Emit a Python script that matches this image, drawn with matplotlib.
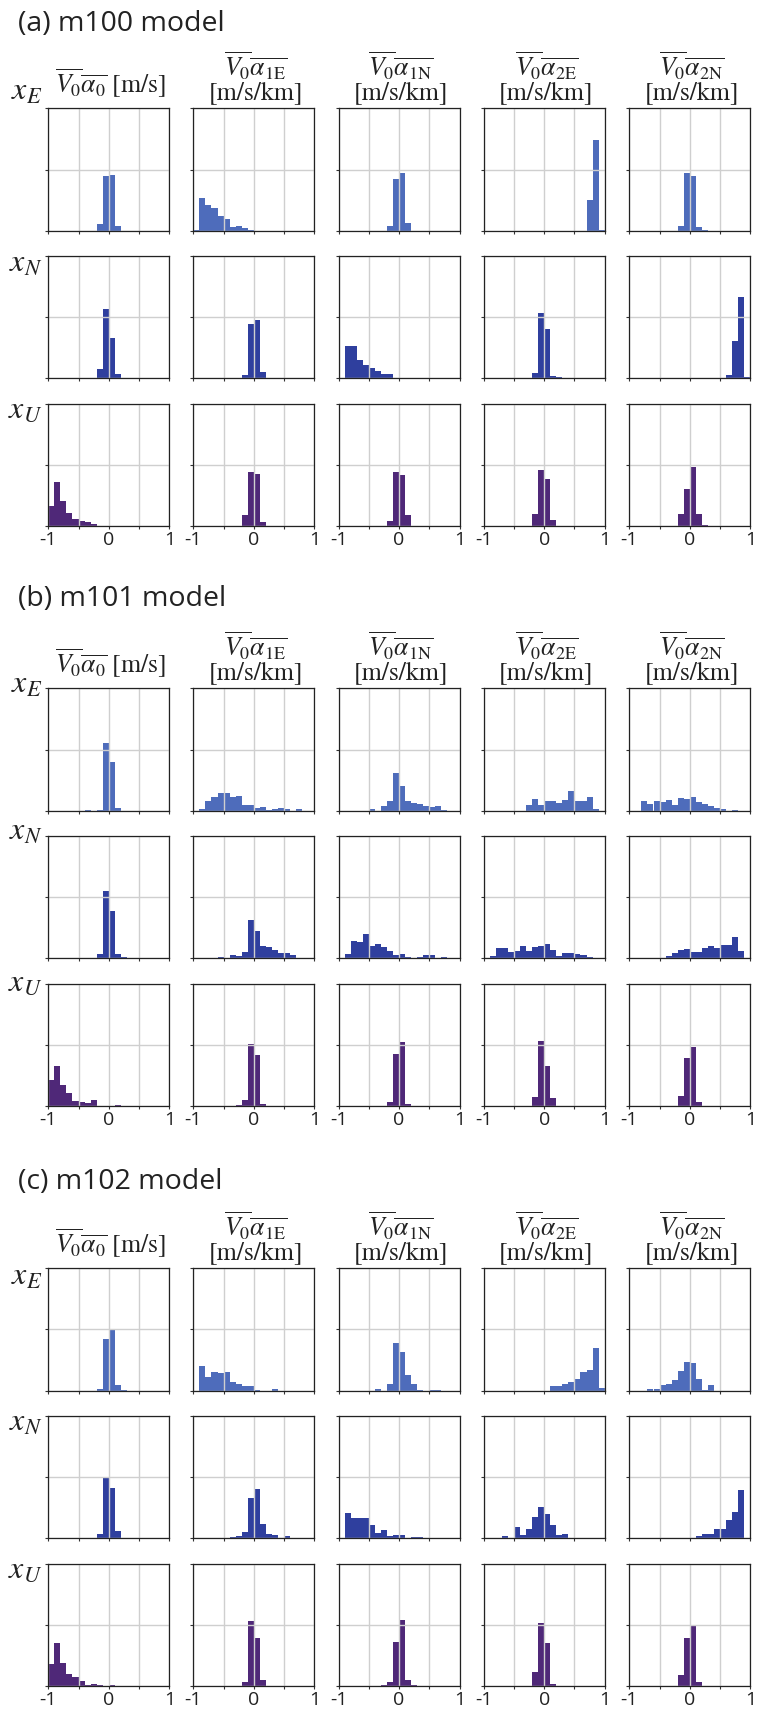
import matplotlib.pyplot as plt

plt.rcParams['mathtext.fontset'] = 'stix'

W, H = 762, 1713
BIN = 0.1

# relative frequency histograms, one entry per column:
# (left edge of the first listed bin, frequencies of consecutive 0.1-wide bins)
m100_xE = [
    (-0.2, [0.054, 0.45, 0.455, 0.04]),
    (-1.0, [0.005, 0.267, 0.21, 0.185, 0.12, 0.095, 0.033, 0.038, 0.022, 0.005]),
    (-0.2, [0.038, 0.42, 0.47, 0.063]),
    (0.7, [0.25, 0.74, 0.006]),
    (-0.2, [0.038, 0.47, 0.447, 0.03, 0.008]),
]
m100_xN = [
    (-0.2, [0.076, 0.565, 0.329, 0.035]),
    (-0.2, [0.027, 0.443, 0.476, 0.052]),
    (-0.9, [0.265, 0.265, 0.15, 0.109, 0.084, 0.06, 0.035, 0.035]),
    (-0.2, [0.046, 0.533, 0.402, 0.019, 0.011]),
    (0.6, [0.027, 0.304, 0.663, 0.011]),
]
m100_xU = [
    (-1.0, [0.163, 0.359, 0.204, 0.106, 0.057, 0.041, 0.033, 0.016]),
    (-0.2, [0.09, 0.44, 0.424, 0.033]),
    (-0.2, [0.041, 0.44, 0.416, 0.09]),
    (-0.2, [0.098, 0.457, 0.383, 0.049]),
    (-0.2, [0.098, 0.302, 0.481, 0.098, 0.008]),
]

m101_xE = [
    (-0.4, [0.008, 0.0, 0.008, 0.554, 0.4, 0.024]),
    (-0.9, [0.016, 0.082, 0.114, 0.147, 0.147, 0.114, 0.122, 0.049, 0.049,
            0.024, 0.033, 0.005, 0.016, 0.024, 0.016, 0.0, 0.016]),
    (-0.5, [0.016, 0.0, 0.041, 0.082, 0.31, 0.204, 0.082, 0.065, 0.057,
            0.041, 0.033, 0.041, 0.008]),
    (-0.3, [0.049, 0.098, 0.049, 0.082, 0.082, 0.065, 0.09, 0.163, 0.082,
            0.082, 0.114, 0.016]),
    (-0.8, [0.082, 0.057, 0.082, 0.073, 0.09, 0.049, 0.106, 0.098, 0.114,
            0.073, 0.057, 0.041, 0.024, 0.016, 0.0, 0.008]),
]
m101_xN = [
    (-0.2, [0.035, 0.546, 0.384, 0.035, 0.008]),
    (-0.6, [0.008, 0.0, 0.027, 0.016, 0.051, 0.311, 0.222, 0.1, 0.092, 0.068,
            0.043, 0.043, 0.027]),
    (-0.9, [0.035, 0.141, 0.132, 0.197, 0.1, 0.116, 0.092, 0.059, 0.027,
            0.035, 0.008, 0.0, 0.008, 0.027, 0.027, 0.0, 0.008]),
    (-0.9, [0.016, 0.084, 0.084, 0.051, 0.059, 0.1, 0.059, 0.092, 0.1, 0.116,
            0.068, 0.016, 0.043, 0.043, 0.035, 0.027, 0.008]),
    (-0.4, [0.016, 0.043, 0.068, 0.076, 0.051, 0.051, 0.084, 0.1, 0.084,
            0.108, 0.108, 0.173, 0.059]),
]
m101_xU = [
    (-1.0, [0.215, 0.325, 0.175, 0.11, 0.046, 0.038, 0.03, 0.054, 0.0, 0.0,
            0.0, 0.008]),
    (-0.3, [0.014, 0.054, 0.511, 0.421, 0.022]),
    (-0.2, [0.038, 0.429, 0.527, 0.022]),
    (-0.2, [0.079, 0.535, 0.332, 0.071]),
    (-0.2, [0.087, 0.397, 0.486, 0.038]),
]

m102_xE = [
    (-0.2, [0.016, 0.424, 0.505, 0.041, 0.008]),
    (-0.9, [0.204, 0.114, 0.155, 0.139, 0.155, 0.073, 0.049, 0.033, 0.033,
            0.008, 0.0, 0.0, 0.016]),
    (-0.4, [0.016, 0.0, 0.057, 0.391, 0.318, 0.13, 0.057, 0.008, 0.0, 0.008,
            0.008]),
    (0.1, [0.033, 0.033, 0.049, 0.073, 0.09, 0.155, 0.171, 0.351, 0.024]),
    (-0.7, [0.016, 0.016, 0.041, 0.049, 0.082, 0.163, 0.236, 0.228, 0.09,
            0.008, 0.041]),
]
m102_xN = [
    (-0.2, [0.032, 0.497, 0.408, 0.059]),
    (-0.4, [0.008, 0.016, 0.049, 0.327, 0.4, 0.116, 0.032, 0.024, 0.0, 0.019]),
    (-0.9, [0.205, 0.165, 0.165, 0.16, 0.108, 0.043, 0.068, 0.016, 0.027,
            0.027, 0.0, 0.011, 0.011]),
    (-0.7, [0.019, 0.0, 0.092, 0.027, 0.076, 0.173, 0.254, 0.197, 0.108,
            0.027, 0.035]),
    (0.1, [0.019, 0.035, 0.035, 0.076, 0.076, 0.149, 0.214, 0.392]),
]
m102_xU = [
    (-1.0, [0.18, 0.35, 0.19, 0.1, 0.075, 0.04, 0.01, 0.014, 0.008, 0.0, 0.008]),
    (-0.2, [0.033, 0.527, 0.389, 0.049]),
    (-0.3, [0.008, 0.033, 0.356, 0.535, 0.049, 0.008]),
    (-0.2, [0.111, 0.511, 0.348, 0.016]),
    (-0.2, [0.087, 0.389, 0.486, 0.033]),
]

panels = [
    ('(a) m100 model', [m100_xE, m100_xN, m100_xU]),
    ('(b) m101 model', [m101_xE, m101_xN, m101_xU]),
    ('(c) m102 model', [m102_xE, m102_xN, m102_xU]),
]
row_labels = [r'$x_E$', r'$x_N$', r'$x_U$']
row_colors = ['#4e6cbb', '#2f3f9e', '#4f2878']
col_math = [r'$\overline{V_0}\overline{\alpha_0}$',
            r'$\overline{V_0}\overline{\alpha_{\mathrm{1E}}}$',
            r'$\overline{V_0}\overline{\alpha_{\mathrm{1N}}}$',
            r'$\overline{V_0}\overline{\alpha_{\mathrm{2E}}}$',
            r'$\overline{V_0}\overline{\alpha_{\mathrm{2N}}}$']
col_units = ['[m/s]', '[m/s/km]', '[m/s/km]', '[m/s/km]', '[m/s/km]']
xtick_vals = [-1, -0.5, 0, 0.5, 1]
xtick_text = ['-1', '', '0', '', '1']

# layout in pixels
col_left = [48.3, 193.3, 338.5, 483.7, 629.3]
ax_w, ax_h = 121.0, 122.5
panel_top = [108.3, 688.3, 1268.0]
row_off = [0.0, 147.5, 295.5]
title_y = [24.0, 598.5, 1182.0]
label_dy = [[-17, 7.5, 5], [-4, -4, -1.5], [8, 7, 6]]

fig = plt.figure(figsize=(W / 100, H / 100), dpi=100)


def fig_xy(x, y):
    return x / W, 1 - y / H


for p, (ptitle, rows) in enumerate(panels):
    fig.text(*fig_xy(18, title_y[p]), ptitle, family='Open Sans', fontsize=20.5,
             ha='left', va='center', color='#222222')
    for r, hists in enumerate(rows):
        top = panel_top[p] + row_off[r]
        fig.text(*fig_xy(42, top + label_dy[p][r]), row_labels[r], fontsize=23,
                 ha='right', va='center', color='#222222')
        for c, (start, freq) in enumerate(hists):
            x0 = col_left[c]
            ax = fig.add_axes([x0 / W, 1 - (top + ax_h) / H, ax_w / W, ax_h / H])
            lefts = [start + BIN * i for i in range(len(freq))]
            ax.bar(lefts, freq, width=BIN, align='edge', color=row_colors[r],
                   linewidth=0, zorder=1)
            ax.set_xlim(-1, 1)
            ax.set_ylim(0, 1)
            ax.set_xticks(xtick_vals)
            ax.set_yticks([0, 0.5, 1])
            ax.set_yticklabels([])
            if r == 2:
                ax.set_xticklabels(xtick_text)
            else:
                ax.set_xticklabels([])
            ax.set_axisbelow(False)
            ax.grid(True, color='#cfcfcf', lw=1.0)
            for s in ax.spines.values():
                s.set_zorder(3)
                s.set_linewidth(0.9)
                s.set_color('#222222')
            ax.tick_params(length=2.5, width=0.8, color='#333333', pad=1,
                           labelsize=14, labelfontfamily='Open Sans',
                           labelcolor='#222222')
            # column headings above the top row
            if r == 0:
                cx = x0 + ax_w / 2 + 2
                if c == 0:
                    fig.text(*fig_xy(cx, top - 25), col_math[c] + ' ' + col_units[c],
                             family='STIXGeneral', fontsize=18.5, ha='center',
                             va='center', color='#222222')
                else:
                    fig.text(*fig_xy(cx, top - 42), col_math[c],
                             family='STIXGeneral', fontsize=18.5, ha='center',
                             va='center', color='#222222')
                    fig.text(*fig_xy(cx, top - 15), col_units[c],
                             family='STIXGeneral', fontsize=18.5, ha='center',
                             va='center', color='#222222')

fig.savefig('out.png', dpi=100)
